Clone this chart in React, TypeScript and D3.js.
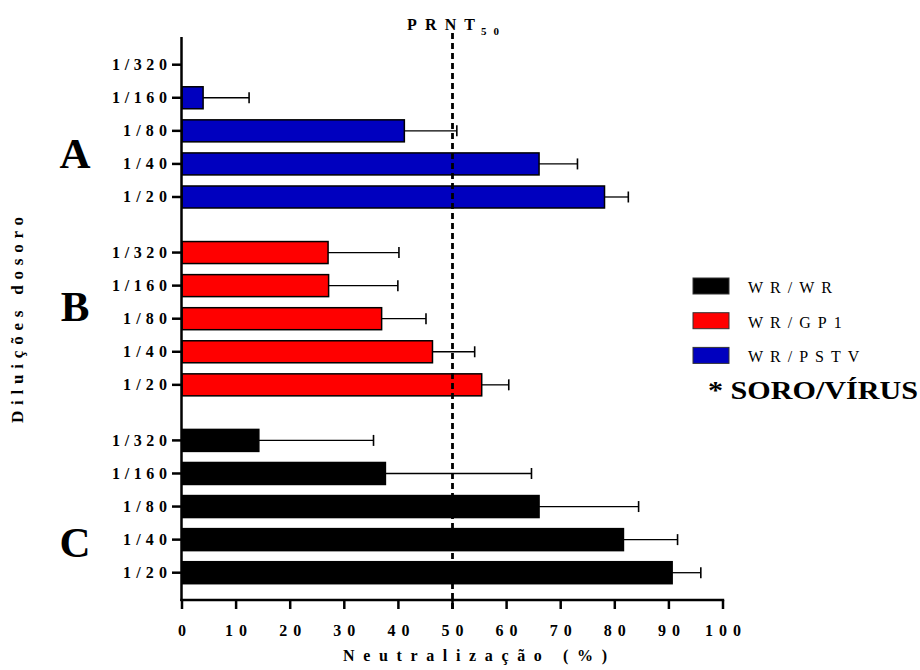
import React from "react";
import * as d3 from "d3";

// Dilutions, listed top to bottom inside each group
const dilutions = ["1/320", "1/160", "1/80", "1/40", "1/20"];
const groups = ["A", "B", "C"];
const seriesNames = ["WR/WR", "WR/GP1", "WR/PSTV"];
const seriesColors = ["#000000", "#ff0000", "#0000bf"];
// group A = WR/PSTV, B = WR/GP1, C = WR/WR
const groupSeries = [2, 1, 0];

const meanA = [null, 3.9, 41.1, 66.0, 78.1];
const sdA = [null, 8.5, 9.7, 7.1, 4.4];
const meanB = [27.0, 27.1, 36.9, 46.3, 55.4];
const sdB = [13.1, 12.8, 8.2, 7.8, 5.0];
const meanC = [14.2, 37.6, 66.0, 81.6, 90.6];
const sdC = [21.2, 27.0, 18.4, 10.0, 5.3];

const xTicks = [0, 10, 20, 30, 40, 50, 60, 70, 80, 90, 100];
const threshold = 50;

const means = [meanA, meanB, meanC];
const sds = [sdA, sdB, sdC];

const W = 920;
const H = 670;
const axisX = 181.5;
const axisY = 600;
const groupGap = 0.68;
// vertical position (in row units) of the big group letters
const letterRow = [2.7, 1.65, 3.1];

const serif = "Liberation Serif, Times New Roman, serif";

export default function App() {
  const x = d3.scaleLinear().domain([0, 100]).range([182, 723]);
  const lastIdx = (groups.length - 1) * (dilutions.length + groupGap) + dilutions.length - 1;
  const y = d3.scaleLinear().domain([0, lastIdx]).range([64.7, 572.7]);
  const rowPos = (g: number, r: number) => y(g * (dilutions.length + groupGap) + r);
  const barH = 22;

  const rows: any[] = [];
  groups.forEach((g, gi) => {
    dilutions.forEach((d, ri) => {
      rows.push({ g, gi, d, ri, m: means[gi][ri], sd: sds[gi][ri], color: seriesColors[groupSeries[gi]] });
    });
  });

  return (
    <svg width={W} height={H} style={{ position: "absolute", left: 0, top: 0, background: "#fff" }}>
      {/* bars */}
      {rows.map((r, i) => {
        const cy = rowPos(r.gi, r.ri);
        return (
          <g key={i}>
            {r.m != null && (
              <>
                <line x1={x(r.m)} x2={x(r.m + r.sd)} y1={cy} y2={cy} stroke="#000" strokeWidth={1.3} />
                <line x1={x(r.m + r.sd)} x2={x(r.m + r.sd)} y1={cy - 5.5} y2={cy + 5.5} stroke="#000" strokeWidth={1.6} />
                <rect x={x(0)} y={cy - barH / 2} width={x(r.m) - x(0)} height={barH} fill={r.color} stroke="#000" strokeWidth={1.5} />
              </>
            )}
            <line x1={axisX - 9.5} x2={axisX} y1={cy} y2={cy} stroke="#000" strokeWidth={2.5} />
            <text
              x={167}
              y={cy + 5.5}
              textAnchor="end"
              fontFamily={serif}
              fontWeight="bold"
              fontSize={16}
              textLength={r.d.length * 11}
              lengthAdjust="spacing"
            >
              {r.d}
            </text>
          </g>
        );
      })}

      {/* threshold dashed line */}
      <line x1={x(threshold)} x2={x(threshold)} y1={33} y2={axisY + 10} stroke="#000" strokeWidth={2.8} strokeDasharray="6,4" />
      <text x={407} y={30} fontFamily={serif} fontWeight="bold" fontSize={16} textLength={68} lengthAdjust="spacing">PRNT</text>
      <text x={481} y={35} fontFamily={serif} fontWeight="bold" fontSize={11} textLength={18} lengthAdjust="spacing">50</text>

      {/* axes */}
      <line x1={axisX} x2={axisX} y1={37} y2={axisY + 1} stroke="#000" strokeWidth={2.5} />
      <line x1={axisX - 1.2} x2={x(100) + 1.2} y1={axisY} y2={axisY} stroke="#000" strokeWidth={2.5} />
      {xTicks.map((t) => (
        <g key={t}>
          <line x1={x(t)} x2={x(t)} y1={axisY} y2={axisY + 9} stroke="#000" strokeWidth={2.5} />
          <text
            x={x(t) + 3}
            y={636}
            textAnchor="middle"
            fontFamily={serif}
            fontWeight="bold"
            fontSize={16}
            letterSpacing={6}
          >
            {t}
          </text>
        </g>
      ))}

      {/* axis titles */}
      <text x={343} y={661} fontFamily={serif} fontWeight="bold" fontSize={16} textLength={264} lengthAdjust="spacing">
        Neutralização (%)
      </text>
      <text
        transform="translate(23,423) rotate(-90)"
        fontFamily={serif}
        fontWeight="bold"
        fontSize={17}
        textLength={206}
        lengthAdjust="spacing"
      >
        Diluições dosoro
      </text>

      {/* group letters */}
      {groups.map((g, gi) => {
        const cy = rowPos(gi, letterRow[gi]);
        return (
          <text key={g} x={75} y={cy + 14} textAnchor="middle" fontFamily={serif} fontWeight="bold" fontSize={43}>
            {g}
          </text>
        );
      })}

      {/* legend */}
      {seriesNames.map((s, i) => (
        <g key={s}>
          <rect x={693} y={278 + i * 34.7} width={36} height={16} fill={seriesColors[i]} stroke="#333" strokeWidth={1} />
          <text x={748} y={293 + i * 34.7} fontFamily={serif} fontSize={16} letterSpacing={7}>
            {s}
          </text>
        </g>
      ))}
      <text x={708} y={399} fontFamily={serif} fontWeight="bold" fontSize={25} textLength={210} lengthAdjust="spacingAndGlyphs">
        * SORO/VÍRUS
      </text>
    </svg>
  );
}
